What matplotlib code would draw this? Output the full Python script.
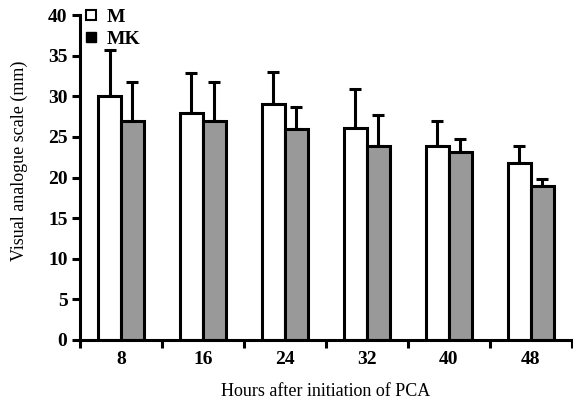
import matplotlib
matplotlib.use("Agg")
import matplotlib.pyplot as plt
from matplotlib.lines import Line2D
import numpy as np

hours = ["8", "16", "24", "32", "40", "48"]
m_vals = [30.0, 28.0, 29.0, 26.1, 23.9, 21.8]
m_err = [5.7, 4.9, 4.0, 4.8, 3.1, 2.1]
mk_vals = [27.0, 26.9, 26.0, 23.9, 23.1, 19.0]
mk_err = [4.7, 4.8, 2.7, 3.8, 1.7, 0.8]

plt.rcParams['font.family'] = ['Liberation Serif', 'DejaVu Serif']

fig = plt.figure(figsize=(5.73, 4.0), dpi=100)
ax = fig.add_axes([0.1396, 0.15, 0.8584, 0.8125])

lw = 2.2
x = np.arange(len(hours)) + 0.5
w = 0.28
ax.bar(x - w/2, m_vals, width=w, color='white', edgecolor='black', linewidth=lw, zorder=2)
ax.bar(x + w/2, mk_vals, width=w, color='#999999', edgecolor='black', linewidth=lw, zorder=2)
ax.errorbar(x - w/2, m_vals, yerr=[np.zeros(6), m_err], fmt='none', ecolor='black',
            elinewidth=lw, capsize=4, capthick=lw, zorder=1)
ax.errorbar(x + w/2, mk_vals, yerr=[np.zeros(6), mk_err], fmt='none', ecolor='black',
            elinewidth=lw, capsize=4, capthick=lw, zorder=1)

ax.set_xlim(0, 6)
ax.set_ylim(0, 40)
ax.set_yticks(range(0, 41, 5))
ax.set_xticks(np.arange(0, 7))
ax.set_xticklabels([])
ax.set_xticks(x, minor=True)
ax.set_xticklabels(hours, minor=True)
ax.tick_params(axis='x', which='minor', length=0, pad=8)
ax.tick_params(axis='x', which='major', length=6, width=lw, direction='out')
ax.tick_params(axis='y', length=6, width=lw, direction='out', pad=3)
for lab in ax.get_xticklabels(minor=True) + ax.get_yticklabels():
    lab.set_fontweight('bold')
    lab.set_fontsize(14)

for s in ['top', 'right']:
    ax.spines[s].set_visible(False)
for s in ['left', 'bottom']:
    ax.spines[s].set_linewidth(lw)

ax.set_xlabel("Hours after initiation of PCA", fontsize=13, labelpad=11)
fig.text(19/573, 1 - 161/400, "Visual analogue scale (mm)", fontsize=13,
         rotation=90, ha='center', va='center')

handles = [Line2D([], [], marker='s', linestyle='none', markerfacecolor='white',
                  markeredgecolor='black', markeredgewidth=1.5, markersize=7),
           Line2D([], [], marker='s', linestyle='none', markerfacecolor='black',
                  markeredgecolor='black', markersize=7)]
leg = ax.legend(handles, ["M", "MK"], loc='upper left', bbox_to_anchor=(-0.013, 1.045),
                frameon=False, handletextpad=0.3, borderaxespad=0, labelspacing=0.25,
                prop={'weight': 'bold', 'size': 14}, handlelength=1.0)

fig.savefig("out.png", dpi=100)
